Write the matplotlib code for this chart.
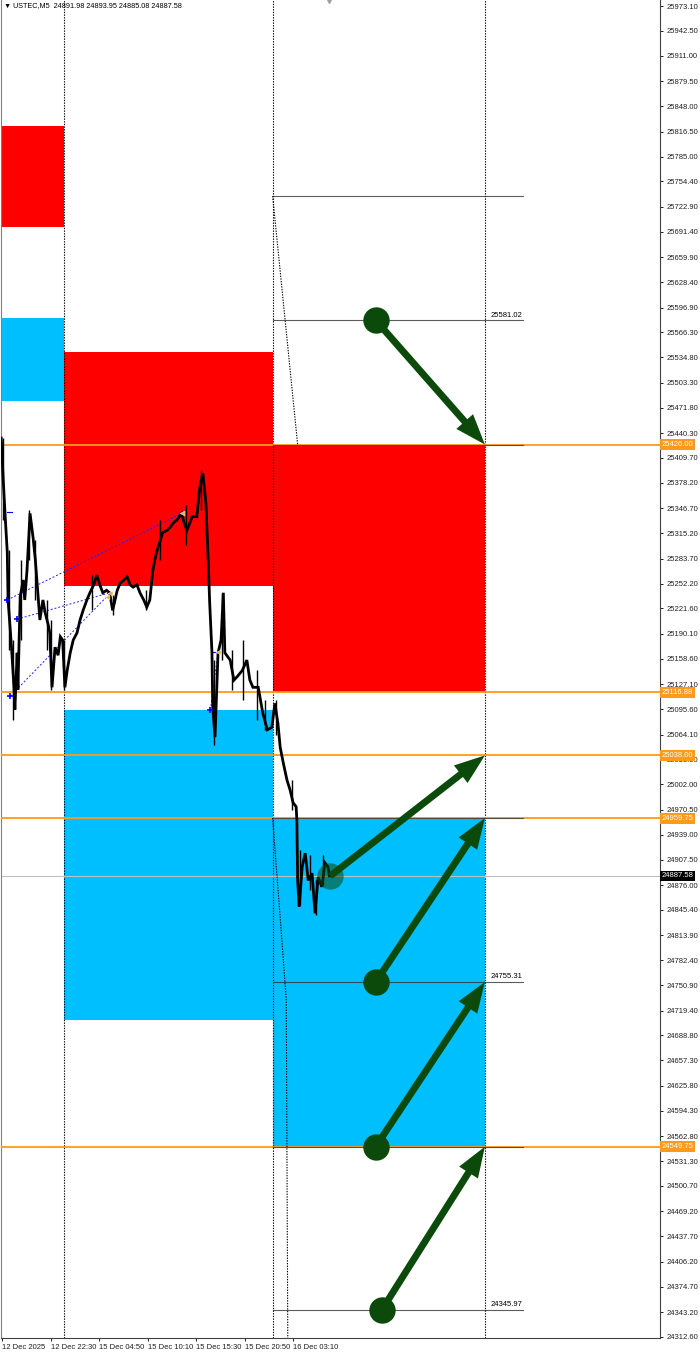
import matplotlib
matplotlib.use("Agg")
import matplotlib.pyplot as plt
import matplotlib.transforms as mtransforms
from matplotlib.patches import Rectangle, FancyArrowPatch

plt.rcParams['font.family'] = ['Liberation Sans', 'DejaVu Sans']

SYMBOL = "USTEC,M5"
OHLC = [24891.98, 24893.95, 24885.08, 24887.58]
LAST_PRICE = 24887.58

# price path, x in M5 bars from the first time label
path_bar = [-1, 1, 4, 7, 8, 11, 13, 16, 17, 20, 21, 24, 28, 30, 33, 37, 41, 44, 46, 50,
            54, 57, 61, 63, 66, 70, 74, 77, 80, 83, 86, 90, 94, 99, 103, 107, 112, 116, 121, 125,
            129, 133, 138, 142, 146, 152, 156, 161, 165, 169, 173, 178, 182, 187, 191, 195, 199, 203, 206, 212,
            218, 222, 227, 231, 237, 241, 244, 251, 257, 261, 265, 269, 272, 274, 277, 278, 281, 285, 289, 292,
            294, 301, 306, 310, 317, 323, 327, 331, 338, 344, 350, 354, 356, 360, 364, 367, 371, 376, 380, 384,
            388, 389, 390, 392, 396, 400, 404, 409, 413, 417, 422, 426, 430, 432]
path_price = [25434, 25394, 25340, 25291, 25232, 25194, 25166, 25120, 25095, 25166, 25120, 25236, 25257, 25232, 25269, 25340, 25310, 25282, 25257, 25207,
              25232, 25216, 25201, 25191, 25123, 25173, 25163, 25186, 25182, 25123, 25144, 25166, 25182, 25191, 25207, 25219, 25232, 25241, 25251, 25263,
              25251, 25241, 25244, 25241, 25219, 25244, 25253, 25257, 25261, 25251, 25248, 25251, 25241, 25232, 25223, 25232, 25269, 25288, 25298, 25316,
              25319, 25323, 25329, 25332, 25340, 25326, 25319, 25336, 25336, 25373, 25390, 25353, 25282, 25228, 25166, 25098, 25061, 25166, 25182, 25241,
              25166, 25157, 25132, 25136, 25144, 25157, 25132, 25123, 25123, 25091, 25070, 25072, 25073, 25103, 25078, 25048, 25029, 25007, 24995, 24979,
              24974, 24957, 24882, 24849, 24899, 24916, 24882, 24891, 24841, 24886, 24874, 24904, 24899, 24887.58]

# candle wicks: bar, low, high
wick_bar = [1, 9, 15, 25, 36, 44, 59, 65, 82, 119, 146, 190, 209, 243, 262, 280, 290, 303,
            318, 336, 347, 361, 383, 393, 406, 414, 424]
wick_low = [25332, 25169, 25082, 25182, 25282, 25232, 25169, 25120, 25120, 25219, 25213, 25219, 25282, 25300,
            25344, 25051, 25157, 25120, 25107, 25082, 25070, 25063, 24970, 24851, 24870, 24839, 24876]
wick_high = [25434, 25294, 25182, 25282, 25344, 25307, 25232, 25207, 25182, 25263, 25238, 25244, 25332, 25350,
             25394, 25157, 25241, 25169, 25182, 25144, 25107, 25107, 25007, 24920, 24914, 24882, 24914]

tick_prices = [25973.10, 25942.50, 25911.00, 25879.50, 25848.00, 25816.50, 25785.00, 25754.40,
               25722.90, 25691.40, 25659.90, 25628.40, 25596.90, 25566.30, 25534.80, 25503.30,
               25471.80, 25440.30, 25409.70, 25378.20, 25346.70, 25315.20, 25283.70, 25252.20,
               25221.60, 25190.10, 25158.60, 25127.10, 25095.60, 25064.10, 25033.50, 25002.00,
               24970.50, 24939.00, 24907.50, 24876.00, 24845.40, 24813.90, 24782.40, 24750.90,
               24719.40, 24688.80, 24657.30, 24625.80, 24594.30, 24562.80, 24531.30, 24500.70,
               24469.20, 24437.70, 24406.20, 24374.70, 24343.20, 24312.60]

time_ticks = [0, 64, 128, 192, 256, 320, 384]
time_labels = ["12 Dec 2025", "12 Dec 22:30", "15 Dec 04:50", "15 Dec 10:10",
               "15 Dec 15:30", "15 Dec 20:50", "16 Dec 03:10"]

day_separators = [82, 357, 637]

# supply / demand zones
zone_start = [-20, -20, 82, 357, 82, 357]
zone_end = [82, 82, 357, 637, 357, 637]
zone_low = [25697.0, 25480.3, 25249.4, 25116.88, 24707.7, 24549.75]
zone_high = [25823.0, 25583.8, 25541.4, 25426.00, 25094.6, 24959.75]
zone_kind = ["supply", "demand", "supply", "supply", "demand", "demand"]

orange_levels = [25426.00, 25116.88, 25038.00, 24959.75, 24549.75]

fib_start, fib_end = 357, 687
fib_levels = [25736.04, 25581.02, 25426.00, 24959.75, 24755.31, 24549.75, 24345.97]
fib_labelled = [25581.02, 24755.31, 24345.97]

# dotted guide lines
guide1_bar = [357, 390]
guide1_price = [25736.04, 25426.00]
guide2_bar = [357, 368, 375, 377]
guide2_price = [24959.75, 24823, 24733, 24311]

# past trades (open -> close)
trade_open_bar = [7, 20, 11, 275]
trade_open_price = [25232, 25208, 25112, 25095]
trade_close_bar = [237, 142, 138, 285]
trade_close_price = [25340, 25241, 25236, 25167]

# projection arrows
arrow_from_bar = [493, 433, 493, 493, 501]
arrow_from_price = [25581.02, 24887.58, 24755.31, 24549.75, 24345.97]
arrow_to_bar = [637, 637, 637, 637, 637]
arrow_to_price = [25426.00, 25038.00, 24959.75, 24755.31, 24549.75]
arrow_faded = [False, True, False, False, False]

W, H = 700, 1357
fig = plt.figure(figsize=(W / 100, H / 100), dpi=100)
ax = fig.add_axes([1 / W, 19 / H, 659 / W, 1338 / H])
ax.set_xlim(-1.3, 868)
ax.set_ylim(24311.0, 25980.7)

RED = "#FF0000"
BLUE = "#00BFFF"
ORANGE = "#FF9A1A"
GREEN = "#0B4A0B"

for x0, x1, lo, hi, kind in zip(zone_start, zone_end, zone_low, zone_high, zone_kind):
    ax.add_patch(Rectangle((x0, lo), x1 - x0, hi - lo, facecolor=RED if kind == "supply" else BLUE,
                           edgecolor="none", zorder=1))

for sx in day_separators:
    ax.axvline(sx, color="black", lw=0.8, ls=(0, (1.2, 1.2)), zorder=2)
ax.plot([357, 357], [24549.75, 24959.75], color="#FF5A2A", lw=0.8, ls=(0, (1.2, 1.2)), zorder=2.1)

ax.axhline(LAST_PRICE, color="#C0C0C0", lw=0.8, zorder=2)

for lv in orange_levels:
    ax.axhline(lv, color=ORANGE, lw=1.3, zorder=3)

for lv in fib_levels:
    ax.plot([fib_start, fib_end], [lv, lv], color="#333333", lw=0.8, alpha=0.8, zorder=3.5)
for lv in fib_labelled:
    ax.text(fib_end, lv + 2, f"{lv:.2f}", ha="right", va="bottom", fontsize=5.5, color="black", zorder=4)

ax.plot(guide1_bar, guide1_price, color="black", lw=0.8, ls=(0, (1.2, 1.2)), zorder=3)
ax.plot(guide2_bar, guide2_price, color="black", lw=0.8, ls=(0, (1.2, 1.2)), zorder=3)

for ob, op, cb, cp in zip(trade_open_bar, trade_open_price, trade_close_bar, trade_close_price):
    ax.plot([ob, cb], [op, cp], color="#2020FF", lw=0.7, ls=(0, (2, 2)), zorder=4)
    ax.plot(ob, op, "+", color="#0000FF", ms=4, mew=1.2, zorder=4.6)
    ax.plot(cb, cp, "<", color="#F0B030", ms=3.5, mec="white", mew=0.3, zorder=4.6)
ax.plot([6, 13], [25342, 25342], color="#0000FF", lw=0.8, zorder=4)
ax.plot([276, 288], [25167, 25167], color="#0000FF", lw=0.8, zorder=4)

ax.vlines(wick_bar, wick_low, wick_high, color="black", lw=1.0, zorder=4.5)
ax.plot(path_bar, path_price, color="black", lw=2.0, zorder=4.5, solid_joinstyle="miter")

for fb, fp, tb, tp, faded in zip(arrow_from_bar, arrow_from_price, arrow_to_bar, arrow_to_price, arrow_faded):
    arr = FancyArrowPatch((fb, fp), (tb, tp), arrowstyle="simple,head_length=2.2,head_width=1.6,tail_width=0.5",
                          mutation_scale=10, color=GREEN, lw=0, shrinkA=0, shrinkB=0, zorder=5)
    ax.add_patch(arr)
    ax.plot(fb, fp, "o", ms=19, color=GREEN, mew=0, alpha=0.55 if faded else 1.0, zorder=5.1)

# shift marker at top
ax.plot(432, 25980.7, "v", color="#A0A0A0", ms=5, clip_on=False, zorder=6)

# axes styling
ax.spines["top"].set_visible(False)
ax.spines["left"].set_color("#808080")
ax.spines["right"].set_color("#404040")
ax.spines["bottom"].set_color("#404040")
ax.yaxis.tick_right()
ax.set_yticks(tick_prices)
ax.set_yticklabels([f"{p:.2f}" for p in tick_prices])
ax.set_xticks(time_ticks)
ax.set_xticklabels(time_labels, ha="left")
ax.tick_params(axis="y", which="both", direction="out", length=2.5, width=0.7, pad=2,
               labelsize=5.5, colors="#202020")
ax.tick_params(axis="x", which="both", direction="out", length=2.5, width=0.7, pad=1.5,
               labelsize=5.5, colors="#202020")
ax.tick_params(axis="y", left=False)

# price labels on the axis
blend = mtransforms.blended_transform_factory(ax.transAxes, ax.transData)
for lv in orange_levels:
    ax.text(1.0 + 1.5 / 659, lv, f"{lv:.2f}", transform=blend, ha="left", va="center", fontsize=5.5,
            color="white", zorder=10, clip_on=False,
            bbox=dict(boxstyle="square,pad=0.25", facecolor=ORANGE, edgecolor="none"))
ax.text(1.0 + 1.5 / 659, LAST_PRICE, f"{LAST_PRICE:.2f}", transform=blend, ha="left", va="center",
        fontsize=5.5, color="white", zorder=10, clip_on=False,
        bbox=dict(boxstyle="square,pad=0.25", facecolor="black", edgecolor="none"))

header = "\u25bc " + SYMBOL + "  " + " ".join(f"{v:.2f}" for v in OHLC)
fig.text(4 / W, 1 - 6 / H, header, ha="left", va="center", fontsize=5.2, color="black",
         family=["Liberation Sans", "DejaVu Sans"])

fig.savefig("out.png", dpi=100)
